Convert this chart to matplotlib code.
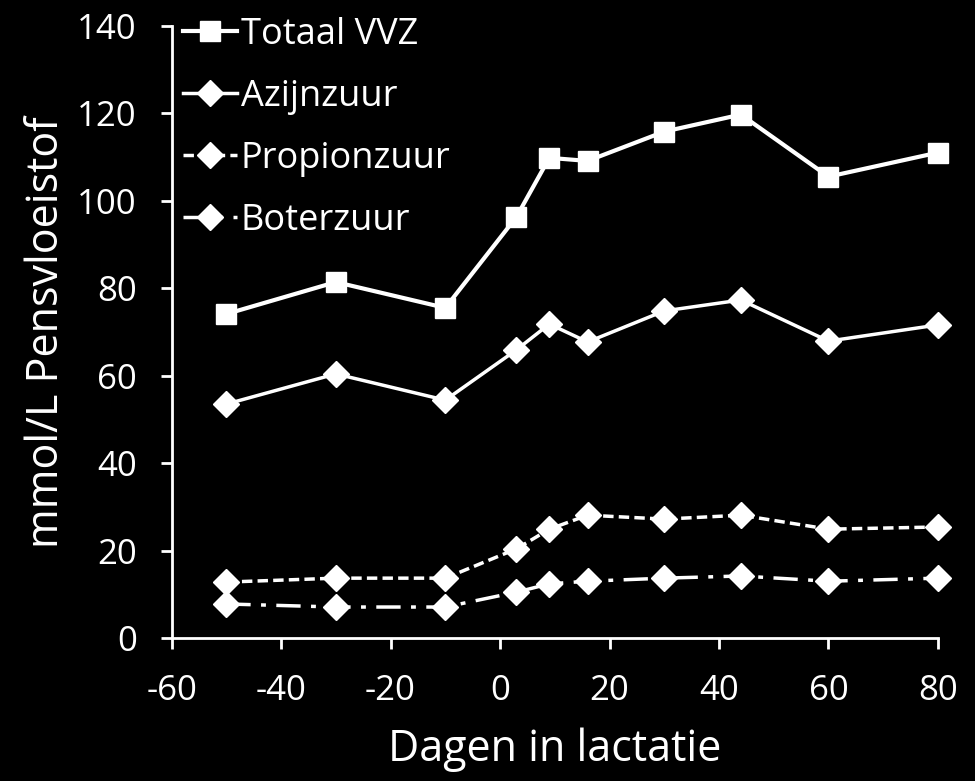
import matplotlib.pyplot as plt

dagen = [-50, -30, -10, 3, 9, 16, 30, 44, 60, 80]
totaal_vvz = [74.1, 81.4, 75.5, 96.3, 109.8, 109.1, 115.8, 119.7, 105.5, 111.0]
azijnzuur = [53.5, 60.4, 54.4, 65.9, 71.8, 67.7, 74.8, 77.3, 67.9, 71.6]
propionzuur = [12.8, 13.7, 13.7, 20.4, 24.9, 28.1, 27.2, 28.1, 24.9, 25.4]
boterzuur = [7.8, 7.1, 7.1, 10.5, 12.4, 13.0, 13.7, 14.2, 13.0, 13.7]

plt.rcParams['font.family'] = ['Open Sans', 'DejaVu Sans']
plt.rcParams['axes.unicode_minus'] = False

fig = plt.figure(figsize=(9.75, 7.81), dpi=100, facecolor='black')
ax = fig.add_axes([0.176, 0.183, 0.786, 0.784], facecolor='black')

ax.plot(dagen, totaal_vvz, color='white', lw=3, marker='s', markersize=15, label='Totaal VVZ', clip_on=False)
ax.plot(dagen, azijnzuur, color='white', lw=2.5, marker='D', markersize=13.5, label='Azijnzuur', clip_on=False)
ax.plot(dagen, propionzuur, color='white', lw=2.5, ls=(0, (3, 1.5)), marker='D', markersize=13.5,
        label='Propionzuur', clip_on=False)
ax.plot(dagen, boterzuur, color='white', lw=2.5, ls=(0, (7, 3, 1.4, 3)), marker='D', markersize=13.5,
        label='Boterzuur', clip_on=False)

ax.set_xlim(-60, 80)
ax.set_ylim(0, 140)
ax.set_xticks(range(-60, 81, 20))
ax.set_yticks(range(0, 141, 20))

for s in ['top', 'right']:
    ax.spines[s].set_visible(False)
for s in ['left', 'bottom']:
    ax.spines[s].set_color('white')
    ax.spines[s].set_linewidth(2)
ax.tick_params(colors='white', labelsize=25, width=2, length=8, direction='out')
ax.tick_params(axis='x', pad=18)
ax.tick_params(axis='y', pad=17)

ax.set_xlabel('Dagen in lactatie', color='white', fontsize=31, labelpad=14)
ax.set_ylabel('mmol/L Pensvloeistof', color='white', fontsize=31, labelpad=6)

leg = ax.legend(loc='upper left', frameon=False, fontsize=26, labelcolor='white',
                handlelength=1.5, handletextpad=0.1, borderaxespad=0.0,
                labelspacing=0.72, bbox_to_anchor=(-0.004, 1.038))

fig.savefig('out.png', dpi=100, facecolor='black')
